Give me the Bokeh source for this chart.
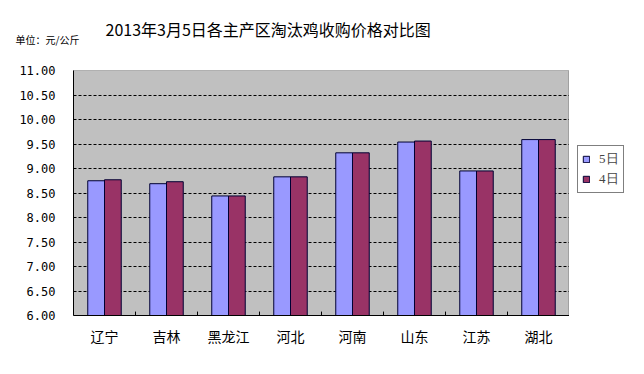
from bokeh.plotting import figure
from bokeh.models import (ColumnDataSource, FactorRange, Range1d, FixedTicker,
                          PrintfTickFormatter, Legend, LegendItem, Title)
from bokeh.layouts import row
from bokeh.transform import dodge
from bokeh.embed import file_html
from bokeh.resources import INLINE

categories = ["辽宁", "吉林", "黑龙江", "河北", "河南", "山东", "江苏", "湖北"]
day5 = [8.75, 8.69, 8.44, 8.83, 9.32, 9.54, 8.95, 9.59]
day4 = [8.77, 8.73, 8.44, 8.83, 9.32, 9.56, 8.95, 9.59]
series_names = ["5日", "4日"]
y_ticks = [6.0, 6.5, 7.0, 7.5, 8.0, 8.5, 9.0, 9.5, 10.0, 10.5, 11.0]
title_text = "2013年3月5日各主产区淘汰鸡收购价格对比图"
unit_text = "单位：元/公斤"

colors = ["#9999FF", "#993366"]
edge = "#000033"

src = ColumnDataSource(dict(cat=categories, d5=day5, d4=day4))
tick_src = ColumnDataSource(dict(cat=categories[1:],
                                 y0=[y_ticks[0]] * (len(categories) - 1),
                                 y1=[y_ticks[0] + 0.08] * (len(categories) - 1)))

p = figure(width=569, height=358, x_range=FactorRange(*categories, range_padding=0),
           y_range=Range1d(y_ticks[0], y_ticks[-1]),
           output_backend="svg", toolbar_location=None,
           min_border_left=73, min_border_right=0, min_border_top=70, min_border_bottom=43)

p.title.text = title_text
p.title.align = "left"
p.title.offset = 32
p.title.text_font = "Noto Sans CJK SC"
p.title.text_font_size = "16px"
p.title.text_font_style = "normal"
p.title.text_color = "black"
p.title.standoff = -71
p.add_layout(Title(text=unit_text, align="left", offset=-58, text_font="Noto Sans CJK SC",
                   text_font_size="10px", text_font_style="normal", text_color="black",
                   standoff=48), "above")

p.background_fill_color = "#C0C0C0"
p.border_fill_color = "white"
p.outline_line_color = "#808080"
p.outline_line_dash = "1 1"

bw = 0.27
p.vbar(x=dodge("cat", -bw / 2, range=p.x_range), top="d5", bottom=y_ticks[0], width=bw,
       source=src, fill_color=colors[0], line_color=edge, line_width=1)
p.vbar(x=dodge("cat", bw / 2, range=p.x_range), top="d4", bottom=y_ticks[0], width=bw,
       source=src, fill_color=colors[1], line_color=edge, line_width=1)

# tick marks between categories
p.segment(x0=dodge("cat", -0.5, range=p.x_range), x1=dodge("cat", -0.5, range=p.x_range),
          y0="y0", y1="y1", source=tick_src, line_color="black", line_width=1)

p.xgrid.grid_line_color = None
p.ygrid.ticker = FixedTicker(ticks=y_ticks)
p.ygrid.grid_line_color = "black"
p.ygrid.grid_line_dash = "3 2"
p.ygrid.grid_line_width = 1

p.yaxis.ticker = FixedTicker(ticks=y_ticks)
p.yaxis.formatter = PrintfTickFormatter(format="%.2f")
p.yaxis.major_tick_out = 0
p.yaxis.major_tick_in = 0
p.yaxis.minor_tick_out = 0
p.yaxis.minor_tick_in = 0
p.yaxis.major_label_standoff = 18
p.yaxis.major_label_text_font = "DejaVu Sans Mono"
p.yaxis.major_label_text_font_size = "12px"
p.yaxis.major_label_text_color = "black"
p.yaxis.axis_line_color = "black"

p.xaxis.major_tick_out = 0
p.xaxis.major_tick_in = 0
p.xaxis.major_label_standoff = 10
p.xaxis.major_label_text_font = "Noto Sans CJK SC"
p.xaxis.major_label_text_font_size = "14px"
p.xaxis.major_label_text_color = "black"
p.xaxis.axis_line_color = "black"

# legend panel (separate figure; its bars use the same data but fall outside its range)
lf = figure(width=59, height=358, x_range=Range1d(0, 1), y_range=Range1d(0, 1),
            output_backend="svg", toolbar_location=None,
            min_border_left=0, min_border_right=0, min_border_top=70, min_border_bottom=43)
lf.axis.visible = False
lf.grid.visible = False
lf.outline_line_color = None
g5 = lf.vbar(x="d5", top="d5", bottom="d4", width=0.5, source=src,
             fill_color=colors[0], line_color=edge, line_width=1)
g4 = lf.vbar(x="d4", top="d4", bottom="d5", width=0.5, source=src,
             fill_color=colors[1], line_color=edge, line_width=1)
legend = Legend(items=[LegendItem(label=series_names[0], renderers=[g5]),
                       LegendItem(label=series_names[1], renderers=[g4])],
                location=(8, 122), orientation="vertical",
                label_text_font="Liberation Serif", label_text_font_size="13px",
                glyph_width=8, glyph_height=8, label_standoff=9, label_height=13,
                spacing=2, padding=4, margin=0,
                border_line_color="black", border_line_width=1,
                background_fill_color="white", background_fill_alpha=1)
lf.add_layout(legend)

layout = row(p, lf, spacing=0)
open("out.html", "w").write(file_html(layout, INLINE))
